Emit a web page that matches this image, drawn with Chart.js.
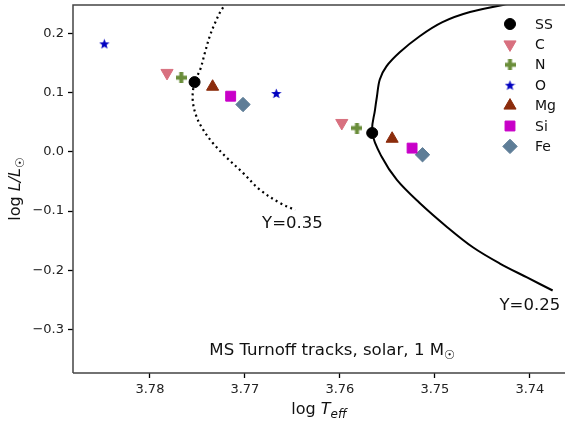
<!DOCTYPE html>
<html>
<head>
<meta charset="utf-8">
<script src="https://cdn.jsdelivr.net/npm/chart.js@4.4.0/dist/chart.umd.min.js"></script>
<style>
  html, body { margin: 0; padding: 0; background: #fff; }
  #wrap { width: 565px; height: 424px; }
</style>
</head>
<body>
<div id="wrap"><canvas id="c" width="565" height="424"></canvas></div>
<script>
// ── Data ──
var xTicks = [3.74, 3.75, 3.76, 3.77, 3.78];
var yTicks = [-0.3, -0.2, -0.1, 0.0, 0.1, 0.2];

// turnoff tracks (log Teff, log L)
var trackY35X = [3.7716, 3.7721, 3.7726, 3.7732, 3.7737, 3.7742, 3.7747, 3.7753, 3.7755, 3.7751, 3.7744, 3.7734, 3.7719, 3.7702, 3.7684, 3.7663, 3.7647];
var trackY35Y = [0.258, 0.2475, 0.2356, 0.2153, 0.1949, 0.1678, 0.139, 0.1175, 0.0881, 0.0593, 0.0373, 0.0153, -0.0102, -0.0356, -0.0644, -0.0864, -0.0983];
var trackY25X = [3.7395, 3.7424, 3.7463, 3.7492, 3.7516, 3.7537, 3.7551, 3.7558, 3.7561, 3.7563, 3.7566, 3.7556, 3.7540, 3.7516, 3.7487, 3.7460, 3.7432, 3.7403, 3.7376];
var trackY25Y = [0.256, 0.249, 0.2356, 0.2186, 0.1949, 0.1678, 0.144, 0.122, 0.0932, 0.0712, 0.0317, -0.0085, -0.0475, -0.0864, -0.1271, -0.161, -0.188, -0.2119, -0.2339];

// element points, first on Y=0.35 track, second on Y=0.25 track
var ssX = [3.7753, 3.7566], ssY = [0.1175, 0.0317];
var cX  = [3.7782, 3.7598], cY  = [0.133, 0.0486];
var nX  = [3.7767, 3.7582], nY  = [0.125, 0.0401];
var oX  = [3.7848, 3.7667], oY  = [0.182, 0.0983];
var mgX = [3.7734, 3.7545], mgY = [0.1097, 0.022];
var siX = [3.7715, 3.7524], siY = [0.0937, 0.0062];
var feX = [3.7702, 3.7513], feY = [0.0797, -0.005];

var legendLabels = ['SS', 'C', 'N', 'O', 'Mg', 'Si', 'Fe'];

// ── Helpers ──
function pts(xs, ys) {
  return xs.map(function(x, i) { return { x: x, y: ys[i] }; });
}

function starImg(size, color) {
  var c = document.createElement('canvas');
  c.width = c.height = size;
  var g = c.getContext('2d');
  var cx = size / 2, cy = size / 2 + 0.4, R = size / 2, r = R * 0.42;
  g.fillStyle = color;
  g.beginPath();
  for (var i = 0; i < 10; i++) {
    var a = -Math.PI / 2 + i * Math.PI / 5;
    var rr = (i % 2) ? r : R;
    g.lineTo(cx + rr * Math.cos(a), cy + rr * Math.sin(a));
  }
  g.closePath();
  g.fill();
  return c;
}

function plusImg(size, thick, color) {
  var c = document.createElement('canvas');
  c.width = c.height = size;
  var g = c.getContext('2d');
  g.fillStyle = color;
  var o = (size - thick) / 2;
  g.fillRect(o, 0, thick, size);
  g.fillRect(0, o, size, thick);
  return c;
}

function marker(label, xs, ys, color, style, radius, rotation) {
  return {
    label: label,
    data: pts(xs, ys),
    showLine: false,
    pointStyle: style,
    pointRadius: radius,
    pointRotation: rotation || 0,
    backgroundColor: color,
    borderColor: color,
    pointBorderWidth: 1,
    order: 0
  };
}

function track(xs, ys, dash) {
  return {
    label: '',
    data: pts(xs, ys),
    showLine: true,
    pointRadius: 0,
    borderColor: '#000',
    borderWidth: dash ? 2.2 : 2,
    borderDash: dash || [],
    tension: 0.35,
    fill: false,
    order: 10
  };
}

var markers = [
  marker('SS', ssX, ssY, '#000000', 'circle', 5.5),
  marker('C',  cX,  cY,  '#d8707f', 'triangle', 7, 180),
  marker('N',  nX,  nY,  '#6b8e3b', plusImg(11, 4, '#6b8e3b'), 5.5),
  marker('O',  oX,  oY,  '#0000c0', starImg(11, '#0000c0'), 5.5),
  marker('Mg', mgX, mgY, '#8b2c0c', 'triangle', 7),
  marker('Si', siX, siY, '#c800c8', 'rect', 7),
  marker('Fe', feX, feY, '#5e7d97', 'rectRot', 7.2)
];

// ── Text / frame plugin ──
var FONT = '"DejaVu Sans", sans-serif';

function drawParts(ctx, parts, x, y, align) {
  // parts: [text, size, italic, dy]
  var total = 0;
  parts.forEach(function(p) {
    ctx.font = (p[2] ? 'italic ' : '') + p[1] + 'px ' + FONT;
    p.w = ctx.measureText(p[0]).width;
    total += p.w;
  });
  var cx = align === 'center' ? x - total / 2 : x;
  ctx.textAlign = 'left';
  ctx.textBaseline = 'alphabetic';
  parts.forEach(function(p) {
    ctx.font = (p[2] ? 'italic ' : '') + p[1] + 'px ' + FONT;
    ctx.fillText(p[0], cx, y + (p[3] || 0));
    cx += p.w;
  });
}

var decor = {
  id: 'decor',
  afterDraw: function(chart) {
    var ctx = chart.ctx, a = chart.chartArea;
    var sx = chart.scales.x, sy = chart.scales.y;
    ctx.save();

    // spines: left, top, bottom
    ctx.strokeStyle = '#444';
    ctx.lineWidth = 1.5;
    ctx.beginPath();
    ctx.moveTo(a.left, a.bottom);
    ctx.lineTo(a.left, a.top);
    ctx.lineTo(a.right + 2, a.top);
    ctx.moveTo(a.left, a.bottom);
    ctx.lineTo(a.right + 2, a.bottom);
    ctx.stroke();

    ctx.fillStyle = '#111';
    // track labels
    drawParts(ctx, [['Y=0.35', 16.5]], sx.getPixelForValue(3.7650), sy.getPixelForValue(-0.1186) + 6, 'center');
    drawParts(ctx, [['Y=0.25', 16.5]], sx.getPixelForValue(3.7400), sy.getPixelForValue(-0.2560) + 6, 'center');

    // inside title
    drawParts(ctx, [['MS Turnoff tracks, solar, 1 M', 16.6], ['\u2609', 12.5, false, 4]],
      sx.getPixelForValue(3.7608), sy.getPixelForValue(-0.3320) + 6, 'center');

    // x label
    drawParts(ctx, [['log ', 16], ['T', 16, true], ['eff', 12, true, 4]], (a.left + a.right) / 2, 414, 'center');

    // y label
    ctx.save();
    ctx.translate(20, (a.top + a.bottom) / 2);
    ctx.rotate(-Math.PI / 2);
    drawParts(ctx, [['log ', 16], ['L/L', 16, true], ['\u2609', 12, false, 4]], 0, 0, 'center');
    ctx.restore();

    // legend
    var lx = 510, ly = 24, step = 20.4;
    markers.forEach(function(m, i) {
      var y = ly + i * step;
      ctx.fillStyle = m.backgroundColor;
      ctx.strokeStyle = m.borderColor;
      ctx.lineWidth = 1;
      if (Chart.helpers && Chart.helpers.drawPoint) {
        Chart.helpers.drawPoint(ctx, {
          pointStyle: m.pointStyle, radius: m.pointRadius,
          rotation: m.pointRotation, borderWidth: 1
        }, lx, y);
      }
      ctx.fillStyle = '#111';
      ctx.font = '14px ' + FONT;
      ctx.textAlign = 'left';
      ctx.textBaseline = 'middle';
      ctx.fillText(legendLabels[i], 535, y + 1);
    });

    ctx.restore();
  }
};

function noPad(s) {
  s.paddingTop = 0; s.paddingBottom = 0; s.paddingLeft = 0; s.paddingRight = 0;
}

// ── Chart ──
var datasets = [track(trackY35X, trackY35Y, [2, 3.4]), track(trackY25X, trackY25Y)].concat(markers);

new Chart(document.getElementById('c'), {
  type: 'scatter',
  data: { datasets: datasets },
  options: {
    responsive: false,
    animation: false,
    devicePixelRatio: 1,
    events: [],
    layout: { autoPadding: false, padding: { top: 5, right: 0, left: 0, bottom: 0 } },
    plugins: { legend: { display: false }, tooltip: { enabled: false } },
    scales: {
      x: {
        type: 'linear',
        reverse: true,
        min: 3.7363,
        max: 3.7881,
        afterBuildTicks: function(s) { s.ticks = xTicks.map(function(v) { return { value: v }; }); },
        afterFit: function(s) { s.height = 51; noPad(s); },
        grid: { drawOnChartArea: false, tickLength: 5, tickColor: '#000', tickWidth: 1.3 },
        border: { display: false },
        ticks: {
          color: '#222', padding: 4, maxRotation: 0,
          font: { family: 'DejaVu Sans', size: 13 },
          callback: function(v) { return v.toFixed(2); }
        }
      },
      y: {
        min: -0.373,
        max: 0.2475,
        afterBuildTicks: function(s) { s.ticks = yTicks.map(function(v) { return { value: v }; }); },
        afterFit: function(s) { s.width = 73; noPad(s); },
        grid: { drawOnChartArea: false, tickLength: 5, tickColor: '#000', tickWidth: 1.3 },
        border: { display: false },
        ticks: {
          color: '#222', padding: 4,
          font: { family: 'DejaVu Sans', size: 13 },
          callback: function(v) { return (v < -1e-9 ? '\u2212' : '') + Math.abs(v).toFixed(1); }
        }
      }
    }
  },
  plugins: [decor]
});
</script>
</body>
</html>
